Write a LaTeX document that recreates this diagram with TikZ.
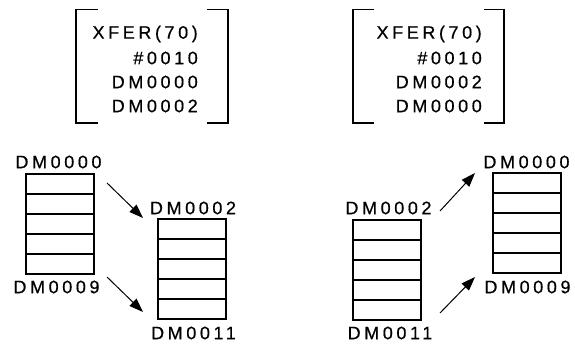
\documentclass[tikz,border=0pt]{standalone}
\usepackage{fontspec}
\setmainfont{Liberation Sans}[LetterSpace=20,FakeBold=0.6]
\usetikzlibrary{arrows.meta}

\tikzset{
  lbl/.style={inner sep=0pt,font=\fontsize{18}{20}\selectfont},
  cell/.style={draw,line width=1.1pt},
  brk/.style={line width=1.9pt},
  mv/.style={line width=1pt,-{Triangle[length=14pt,width=10pt]}}
}

\begin{document}
\begin{tikzpicture}[x=1pt,y=-1pt]
  \useasboundingbox (0,0) rectangle (575,343);

  % (left) instruction block: DM0000 -> DM0002
  \draw[brk] (98,9.5) -- (76,9.5) -- (76,123) -- (98,123);
  \draw[brk] (207,9.5) -- (228,9.5) -- (228,123) -- (207,123);
  \node[lbl,anchor=east] (lcmd) at (198,34) {XFER(70)};
  \node[lbl,anchor=east] (lcnt) at (198,58) {\#0010};
  \node[lbl,anchor=east] (lsrc) at (198,82) {DM0000};
  \node[lbl,anchor=east] (ldst) at (198,106) {DM0002};

  % (right) instruction block: DM0002 -> DM0000
  \draw[brk] (374,9.5) -- (353,9.5) -- (353,123) -- (374,123);
  \draw[brk] (484,9.5) -- (504,9.5) -- (504,123) -- (484,123);
  \node[lbl,anchor=east] (rcmd) at (482,34) {XFER(70)};
  \node[lbl,anchor=east] (rcnt) at (482,58) {\#0010};
  \node[lbl,anchor=east] (rsrc) at (482,82) {DM0002};
  \node[lbl,anchor=east] (rdst) at (482,106) {DM0000};

  % memory blocks, five rows each
  \foreach \x/\y in {26/174,158/219,353/220,493/173} {
    \foreach \r in {0,...,4}
      \draw[cell] (\x,\y+\r*20) rectangle (\x+68,\y+\r*20+20);
  }

  % left case labels
  \node[lbl] (lsA) at (58.5,162) {DM0000};
  \node[lbl] (lsB) at (56.5,287) {DM0009};
  \node[lbl] (ldA) at (193,208) {DM0002};
  \node[lbl] (ldB) at (193.5,333) {DM0011};

  % right case labels
  \node[lbl] (rsA) at (388.5,208) {DM0002};
  \node[lbl] (rsB) at (390,333) {DM0011};
  \node[lbl] (rdA) at (526.5,162) {DM0000};
  \node[lbl] (rdB) at (527.5,287) {DM0009};

  % transfer arrows
  \coordinate (la1) at (107,183);
  \coordinate (la2) at (143,218);
  \coordinate (lb1) at (107,277);
  \coordinate (lb2) at (143,312);
  \coordinate (ra1) at (440,211);
  \coordinate (ra2) at (475,173);
  \coordinate (rb1) at (440,313);
  \coordinate (rb2) at (475,277);
  \draw[mv] (la1) -- (la2);
  \draw[mv] (lb1) -- (lb2);
  \draw[mv] (ra1) -- (ra2);
  \draw[mv] (rb1) -- (rb2);
\end{tikzpicture}
\end{document}
